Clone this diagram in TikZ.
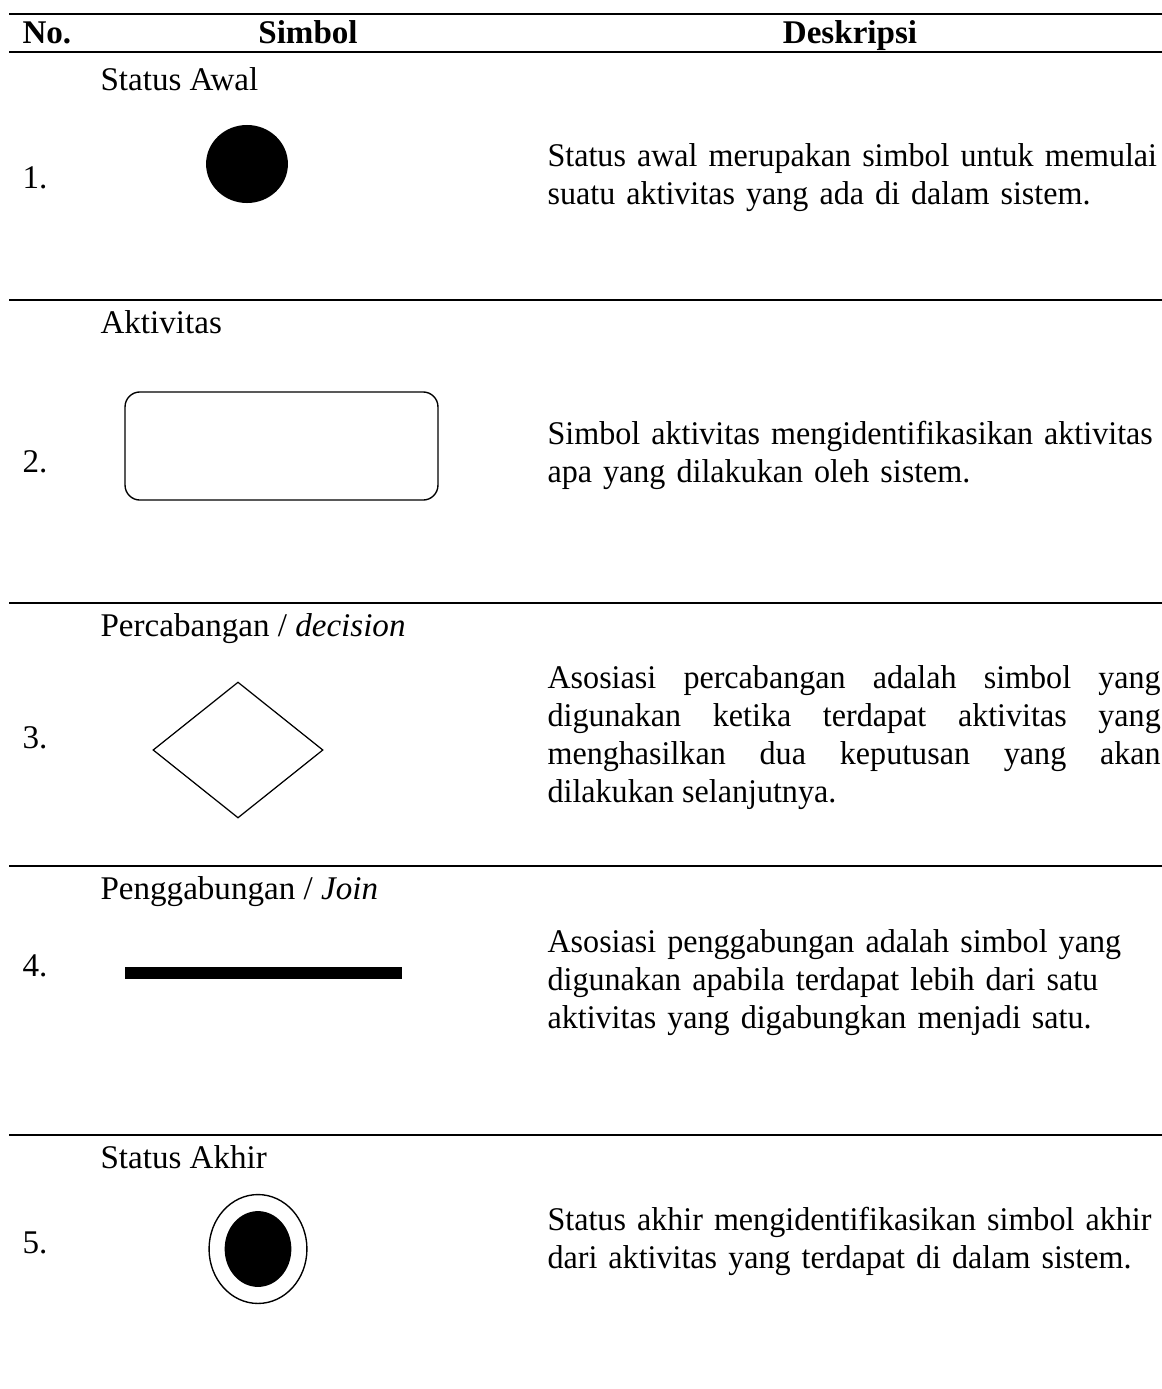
\documentclass[tikz,border=0pt]{standalone}
\usepackage{fontspec}
\setmainfont{Liberation Serif}
\newfontfamily\descfont[FakeStretch=0.97]{Liberation Serif}
\usetikzlibrary{positioning, shapes.geometric}
\hyphenpenalty=10000

\tikzset{
  rule/.style={line width=1pt},
  headtxt/.style={font=\fontsize{12}{13.8}\selectfont\bfseries, anchor=base, inner sep=0pt},
  numtxt/.style={font=\fontsize{12}{13.8}\selectfont, anchor=base west, inner sep=0pt},
  symlabel/.style={font=\fontsize{12}{13.8}\selectfont, anchor=base west, inner sep=0pt},
  desctxt/.style={font=\descfont\fontsize{12}{13.8}\selectfont, anchor=north west,
    inner sep=0pt, text width=228pt, align=left},
  startstate/.style={ellipse, fill=black, minimum width=29.7pt, minimum height=28.3pt, inner sep=0pt},
  activity/.style={rectangle, draw, line width=0.5pt, rounded corners=5.4pt,
    minimum width=113.5pt, minimum height=39.2pt, inner sep=0pt},
  decision/.style={diamond, draw, line width=0.45pt, minimum width=61.7pt, minimum height=49.3pt, inner sep=0pt},
  joinbar/.style={rectangle, fill=black, minimum width=100.5pt, minimum height=4.4pt, inner sep=0pt},
  endring/.style={ellipse, draw, line width=0.5pt, minimum width=35.5pt, minimum height=39.5pt, inner sep=0pt},
  enddot/.style={ellipse, fill=black, minimum width=24.2pt, minimum height=27.5pt, inner sep=0pt}
}

\begin{document}
\begin{tikzpicture}[x=0.3627pt, y=-0.3627pt]

    \useasboundingbox (0,0) rectangle (1162,1389);

    % header
    \draw[rule] (9,14) -- (1162,14);
    \node[headtxt, anchor=base west] (hno) at (22,44) {No.};
    \node[headtxt] (hsym) at (308,44) {Simbol};
    \node[headtxt] (hdesc) at (850,44) {Deskripsi};
    \foreach \y in {52,300,603,866,1135}
        \draw[rule] (9,\y) -- (1162,\y);

    % 1. status awal
    \node[symlabel] (lab1) at (100,90) {Status Awal};
    \node[startstate] (start) at (247,164) {};
    \node[numtxt] (no1) at (22,188) {1.};
    \node[desctxt] (desc1) at (547,143) {Status awal merupakan simbol untuk memulai\\
        suatu aktivitas yang ada di dalam sistem.};

    % 2. aktivitas
    \node[symlabel] (lab2) at (100,333) {Aktivitas};
    \node[activity] (act) at (281.5,446) {};
    \node[numtxt] (no2) at (22,472) {2.};
    \node[desctxt] (desc2) at (547,421) {Simbol aktivitas mengidentifikasikan aktivitas\\
        apa yang dilakukan oleh sistem.};

    % 3. percabangan
    \node[symlabel] (lab3) at (100,636) {Percabangan / \textit{decision}};
    \node[decision] (dec) at (238,750) {};
    \node[numtxt] (no3) at (22,748) {3.};
    \node[desctxt, text width=222.4pt, align=justify] (desc3) at (547,665) {Asosiasi percabangan adalah simbol yang\linebreak
        digunakan ketika terdapat aktivitas yang\linebreak
        menghasilkan dua keputusan yang akan\linebreak
        dilakukan selanjutnya.};

    % 4. penggabungan
    \node[symlabel] (lab4) at (100,899) {Penggabungan / \textit{Join}};
    \node[joinbar] (join) at (263.5,973) {};
    \node[numtxt] (no4) at (22,976) {4.};
    \node[desctxt] (desc4) at (547,929) {Asosiasi penggabungan adalah simbol yang\\
        digunakan apabila terdapat lebih dari satu\\
        aktivitas yang digabungkan menjadi satu.};

    % 5. status akhir
    \node[symlabel] (lab5) at (100,1168) {Status Akhir};
    \node[endring] (endo) at (258,1249) {};
    \node[enddot] (endi) at (endo.center) {};
    \node[numtxt] (no5) at (22,1253) {5.};
    \node[desctxt] (desc5) at (547,1207) {Status akhir mengidentifikasikan simbol akhir\\
        dari aktivitas yang terdapat di dalam sistem.};

\end{tikzpicture}
\end{document}
